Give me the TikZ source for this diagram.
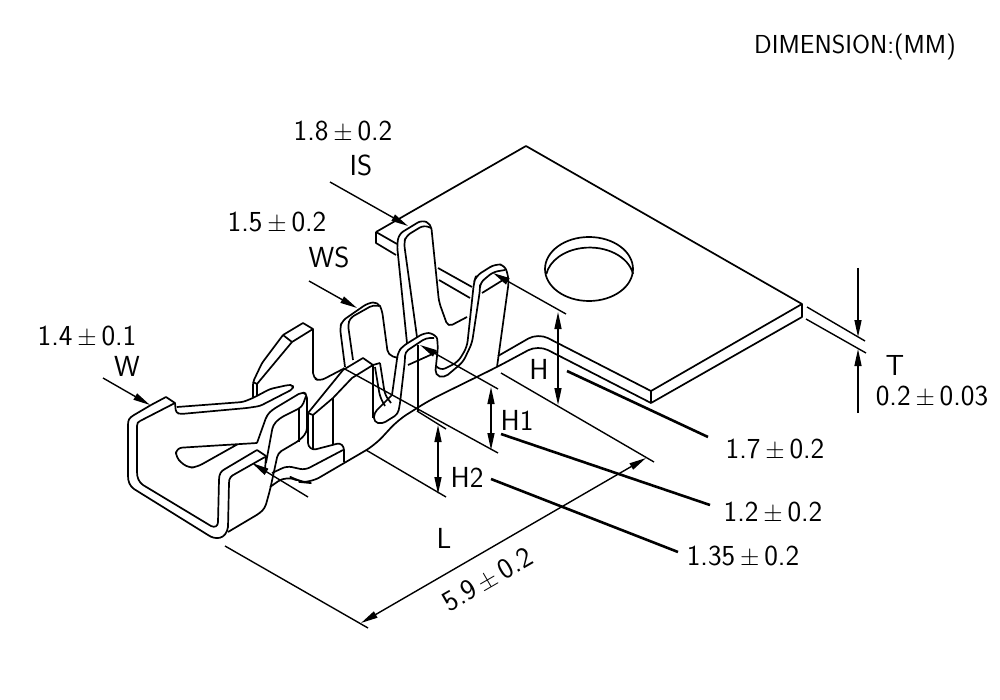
\documentclass[tikz,border=0pt]{standalone}
\usepackage{tikz}
\usetikzlibrary{arrows.meta}
\tikzset{
  part/.style={line width=1.7pt,line join=round,rounded corners=3pt},
  sharp/.style={line width=1.7pt,line join=round},
  dimthin/.style={line width=1.4pt},
  dimline/.style={line width=1.4pt,-{Stealth[inset=0pt,length=17pt,width=7pt]}},
  dimboth/.style={line width=1.4pt,{Stealth[inset=0pt,length=17pt,width=7pt]}-{Stealth[inset=0pt,length=17pt,width=7pt]}},
  leader/.style={line width=2.6pt},
  cadtext/.style={font=\sffamily\fontsize{29}{29}\selectfont,inner sep=0pt},
}
\newcommand{\tolsign}{\,$\pm$\,}
\begin{document}
\begin{tikzpicture}[x=1pt,y=-1pt]
\useasboundingbox (0,0) rectangle (1000,700);
% flat plate with hole
\draw[sharp] (376,232) -- (526,146) -- (802,304) -- (651,391) -- (651,403) -- (802,317) -- (802,304);
\draw[sharp] (376,232) -- (376,243) -- (396,255);
\draw[sharp] (376,232) -- (397,244);
\draw[sharp] (438,268) -- (472,287);
\draw[sharp] (439,280) -- (470,298);
\draw[sharp] (589,269) ellipse [x radius=44,y radius=32];
\draw[sharp] (633,274) arc [start angle=-10,end angle=-170,x radius=44,y radius=32];
% bent strap
\draw[part,rounded corners=11pt] (651,391) -- (538,333) -- (498,356);
\draw[part,rounded corners=11pt] (651,403) -- (538,345) -- (497,367) -- (430,400) -- (398,420) -- (375,445) -- (310,483) -- (300,482) -- (287,475) -- (270,487);
% tall prong
\draw[part,rounded corners=5pt] (407,343) -- (397,245) -- (399,234) -- (422,220) -- (431,224) -- (439,302) -- (448,327) -- (467,317);
\draw[part,rounded corners=5pt] (417,337) -- (404,243) -- (406,236) -- (424,225) -- (431,228);
% right prong
\draw[part,rounded corners=6pt] (437,367) -- (440,371) -- (458,362) -- (467,347) -- (474,282) -- (476,276) -- (495,264) -- (505,265) -- (509,280) -- (497,367);
\draw[part,rounded corners=5pt] (437,338) -- (438,347) -- (435,375) -- (444,378) -- (463,362) -- (472,343) -- (480,290) -- (480,283) -- (493,272) -- (505,270);
\draw[sharp] (482,293) -- (503,280);
% middle prong
\draw[part,rounded corners=5pt] (392,395) -- (398,352) -- (403,346) -- (424,333) -- (433,333) -- (437,338);
\draw[part,rounded corners=4pt] (400,403) -- (405,360) -- (405,352) -- (426,338) -- (434,338);
\draw[sharp] (408,365) -- (437,352);
\draw[part,rounded corners=4pt] (392,395) -- (374,413) -- (374,422) -- (382,424) -- (398,414) -- (400,403);
\draw[sharp] (418,345) -- (418,411);
% WS prong
\draw[part,rounded corners=5pt] (345,367) -- (340,328) -- (342,321) -- (368,303) -- (378,302) -- (382,310) -- (388,355) -- (398,358);
\draw[part,rounded corners=4pt] (353,360) -- (348,325) -- (350,318) -- (373,305) -- (379,306);
% block under the prong
\draw[sharp] (308,413) -- (343,370) -- (363,358) -- (373,365) -- (380,363);
\draw[sharp] (313,415) -- (333,398) -- (352,378) -- (373,365);
\draw[sharp] (308,413) -- (313,415);
\draw[part] (308,413) -- (308,446) -- (313,450) -- (340,443) -- (344,447) -- (344,462);
\draw[sharp] (313,415) -- (313,450);
\draw[sharp] (333,398) -- (333,445);
\draw[sharp] (373,365) -- (373,418);
\draw[part,rounded corners=5pt] (380,363) -- (385,395) -- (391,403);
\draw[part,rounded corners=5pt] (375,367) -- (380,397) -- (385,406);
% far left prong
\draw[sharp] (283,335) -- (303,323) -- (313,329) -- (292,342) -- (283,335);
\draw[part] (283,335) -- (262,363) -- (253,382) -- (253,397);
\draw[sharp] (292,342) -- (257,384);
\draw[sharp] (253,382) -- (257,384) -- (257,396);
\draw[part,rounded corners=5pt] (313,329) -- (313,378) -- (320,381) -- (343,369);
% front wall
\draw[sharp] (151,405) -- (134,415) .. controls (129,418) and (128,420) .. (128,425) -- (128,476) .. controls (128,482) and (130,486) .. (134,489) -- (208,535) .. controls (215,540) and (226,540) .. (228,527) -- (229,483) .. controls (229,478) and (231,476) .. (235,474) -- (265,457);
\draw[sharp] (140,421) .. controls (138,422) and (137,423) .. (137,426) -- (137,472) .. controls (137,478) and (139,482) .. (143,485) -- (211,526) .. controls (215,528) and (218,526) .. (218,522) -- (219,480) .. controls (219,474) and (221,471) .. (225,469) -- (257,450);
\draw[sharp] (151,405) -- (166,397) -- (175,403) -- (140,421);
\draw[sharp] (257,450) -- (266,456) -- (265,470);
% upper strip
\draw[part] (175,403) -- (176,413) -- (181,414) -- (247,408) -- (260,406) -- (293,389) -- (293,385) -- (288,385) -- (270,389) -- (253,398) -- (243,402) -- (177,407);
% slot
\draw[part,rounded corners=6pt] (257,443) -- (176,448) -- (176,458) -- (188,468) -- (197,467) -- (238,444);
% right wing
\draw[part,rounded corners=4pt] (257,443) -- (267,415) -- (272,410) -- (302,392) -- (307,394) -- (307,432) -- (300,440) -- (278,453) -- (270,490) -- (265,508) -- (260,513) -- (228,532);
\draw[part,rounded corners=4pt] (266,463) -- (273,425) -- (280,418) -- (302,407) -- (306,396);
\draw[sharp] (299,408) -- (299,442);
\draw[part,rounded corners=5pt] (272,473) -- (287,466) -- (305,470) -- (343,450);
% dimension lines
\draw[dimline] (330,182) -- (408,226);
\draw[dimline] (309,281) -- (357,308);
\draw[dimline] (103,378) -- (150,405);
\draw[dimline] (308,497) -- (252,463);
\draw[dimthin] (225,546) -- (368,628);
\draw[dimthin] (501,373) -- (654,462);
\draw[dimboth] (361,623) -- (646,458);
\draw[dimline] (566,314) -- (493,273);
\draw[dimboth] (558,312) -- (558,405);
\draw[dimline] (498,389) -- (420,345);
\draw[dimthin] (343,368) -- (498,453);
\draw[dimboth] (491,387) -- (491,450);
\draw[dimthin] (417,411) -- (446,429);
\draw[dimthin] (366,450) -- (446,497);
\draw[dimboth] (438,425) -- (438,494);
\draw[dimthin] (807,307) -- (865,341);
\draw[dimthin] (806,319) -- (866,353);
\draw[dimline] (858,268) -- (858,337);
\draw[dimline] (858,413) -- (858,349);
% leaders
\draw[leader] (567,371) -- (708,437);
\draw[leader] (501,434) -- (710,505);
\draw[leader] (491,479) -- (678,552);
% labels
\node[cadtext,font=\sffamily\fontsize{26}{26}\selectfont] (dimnote) at (855,47) {DIMENSION:(MM)};
\node[cadtext] (istol) at (343,132) {1.8\tolsign 0.2};
\node[cadtext] (islab) at (361,165) {IS};
\node[cadtext] (wstol) at (277,223) {1.5\tolsign 0.2};
\node[cadtext] (wslab) at (329,257) {WS};
\node[cadtext] (wtol) at (87,337) {1.4\tolsign 0.1};
\node[cadtext] (wlab) at (127,366) {W};
\node[cadtext] (tlab) at (895,365) {T};
\node[cadtext] (ttol) at (932,397) {0.2\tolsign 0.03};
\node[cadtext] (hlab) at (539,369) {H};
\node[cadtext] (honelab) at (517,420) {H1};
\node[cadtext] (htwolab) at (467,477) {H2};
\node[cadtext] (llab) at (444,538) {L};
\node[cadtext] (htol) at (775,450) {1.7\tolsign 0.2};
\node[cadtext] (honetol) at (773,513) {1.2\tolsign 0.2};
\node[cadtext] (htwotol) at (743,557) {1.35\tolsign 0.2};
\node[cadtext,rotate=30] (ltol) at (488,580) {5.9\tolsign 0.2};
\end{tikzpicture}
\end{document}
